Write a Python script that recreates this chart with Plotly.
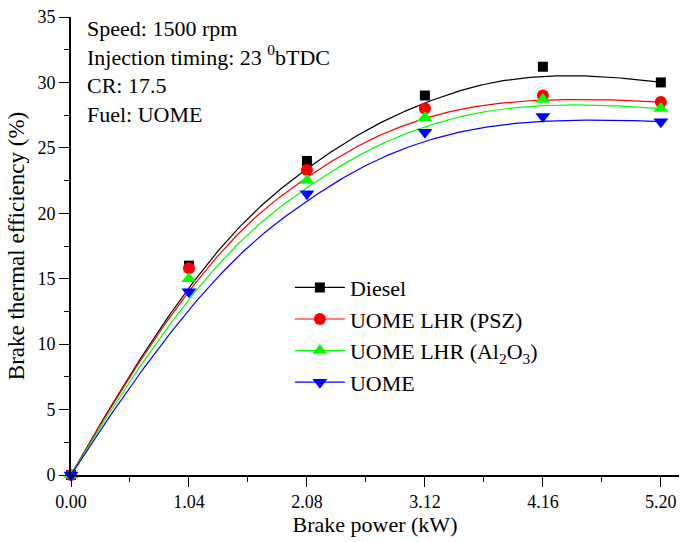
import numpy as np
import plotly.graph_objects as go

# Brake power (kW)
power = [0.0, 1.04, 2.08, 3.12, 4.16, 5.20]

# Brake thermal efficiency (%)
diesel = [0.0, 16.0, 24.0, 29.0, 31.2, 30.0]
uome_psz = [0.0, 15.8, 23.3, 28.0, 29.0, 28.5]
uome_al2o3 = [0.0, 15.0, 22.5, 27.3, 28.7, 28.0]
uome = [0.0, 14.0, 21.5, 26.2, 27.4, 27.0]

series = [
    ("Diesel", diesel, "#000000", "square", 10),
    ("UOME LHR (PSZ)", uome_psz, "#ff0000", "circle", 12),
    ("UOME LHR (Al<sub>2</sub>O<sub>3</sub>)", uome_al2o3, "#00ff00", "triangle-up", 13),
    ("UOME", uome, "#0000ff", "triangle-down", 13),
]

FONT = "Liberation Serif"


def bspline(px, py, samples=300, k=3):
    """Clamped uniform B-spline using the points as control polygon."""
    px = np.asarray(px, float)
    py = np.asarray(py, float)
    n = len(px)
    inner = np.arange(1, n - k)
    knots = np.concatenate([np.zeros(k + 1), inner, np.full(k + 1, n - k)]).astype(float)
    u = np.linspace(0, n - k, samples)
    u[-1] -= 1e-9
    # Cox-de Boor recursion
    B = np.zeros((samples, len(knots) - 1))
    for i in range(len(knots) - 1):
        B[:, i] = (u >= knots[i]) & (u < knots[i + 1])
    for d in range(1, k + 1):
        Bn = np.zeros((samples, len(knots) - 1 - d))
        for i in range(len(knots) - 1 - d):
            a = 0.0
            den1 = knots[i + d] - knots[i]
            den2 = knots[i + d + 1] - knots[i + 1]
            if den1 > 0:
                a = (u - knots[i]) / den1 * B[:, i]
            b = 0.0
            if den2 > 0:
                b = (knots[i + d + 1] - u) / den2 * B[:, i + 1]
            Bn[:, i] = a + b
        B = Bn
    return B @ px, B @ py


fig = go.Figure()

for name, vals, color, symbol, size in series:
    cx, cy = bspline(power, vals)
    fig.add_trace(go.Scatter(
        x=cx, y=cy, mode="lines",
        line=dict(color=color, width=1.2), showlegend=False,
        hoverinfo="skip", cliponaxis=False,
    ))
    fig.add_trace(go.Scatter(
        x=power, y=vals, mode="markers", name=name,
        marker=dict(color=color, symbol=symbol, size=size),
        showlegend=False, cliponaxis=False,
    ))
    # legend entry showing both line and symbol
    fig.add_trace(go.Scatter(
        x=[None], y=[None], mode="lines+markers", name=name,
        line=dict(color=color, width=1.2),
        marker=dict(color=color, symbol=symbol, size=size),
    ))

notes = "<br>".join([
    "Speed: 1500 rpm",
    "Injection timing: 23 <sup>0</sup>bTDC",
    "CR: 17.5",
    "Fuel: UOME",
])
fig.add_annotation(
    x=0, y=1, xref="paper", yref="paper", xanchor="left", yanchor="top",
    xshift=14, yshift=3, text=notes, showarrow=False, align="left",
    font=dict(family=FONT, size=22, color="#000"),
)

axis_common = dict(
    showgrid=False, zeroline=False, showline=True, linecolor="#000", linewidth=1.6,
    ticks="outside", ticklen=10, tickwidth=1.4, tickcolor="#000",
    tickfont=dict(family=FONT, size=18, color="#000"),
    mirror=False,
)

fig.update_layout(
    width=680, height=542,
    margin=dict(l=71, r=1, t=17, b=67),
    paper_bgcolor="#fff", plot_bgcolor="#fff",
    font=dict(family=FONT, color="#000"),
    xaxis=dict(
        **axis_common, range=[0, 5.36], tick0=0, dtick=1.04, tickformat=".2f",
        minor=dict(dtick=0.52, tick0=0, ticks="outside", ticklen=5, tickwidth=1.4, tickcolor="#000"),
        title=dict(text="Brake power (kW)", font=dict(family=FONT, size=22), standoff=2),
    ),
    yaxis=dict(
        **axis_common, range=[0, 35], tick0=0, dtick=5,
        minor=dict(dtick=2.5, tick0=0, ticks="outside", ticklen=5, tickwidth=1.4, tickcolor="#000"),
        title=dict(text="Brake thermal efficiency (%)", font=dict(family=FONT, size=23), standoff=7),
    ),
    legend=dict(
        x=0.36, y=0.455, xanchor="left", yanchor="top",
        font=dict(family=FONT, size=22, color="#000"),
        bgcolor="rgba(0,0,0,0)", itemwidth=50, tracegroupgap=0,
    ),
)

fig.write_html("out.html")
